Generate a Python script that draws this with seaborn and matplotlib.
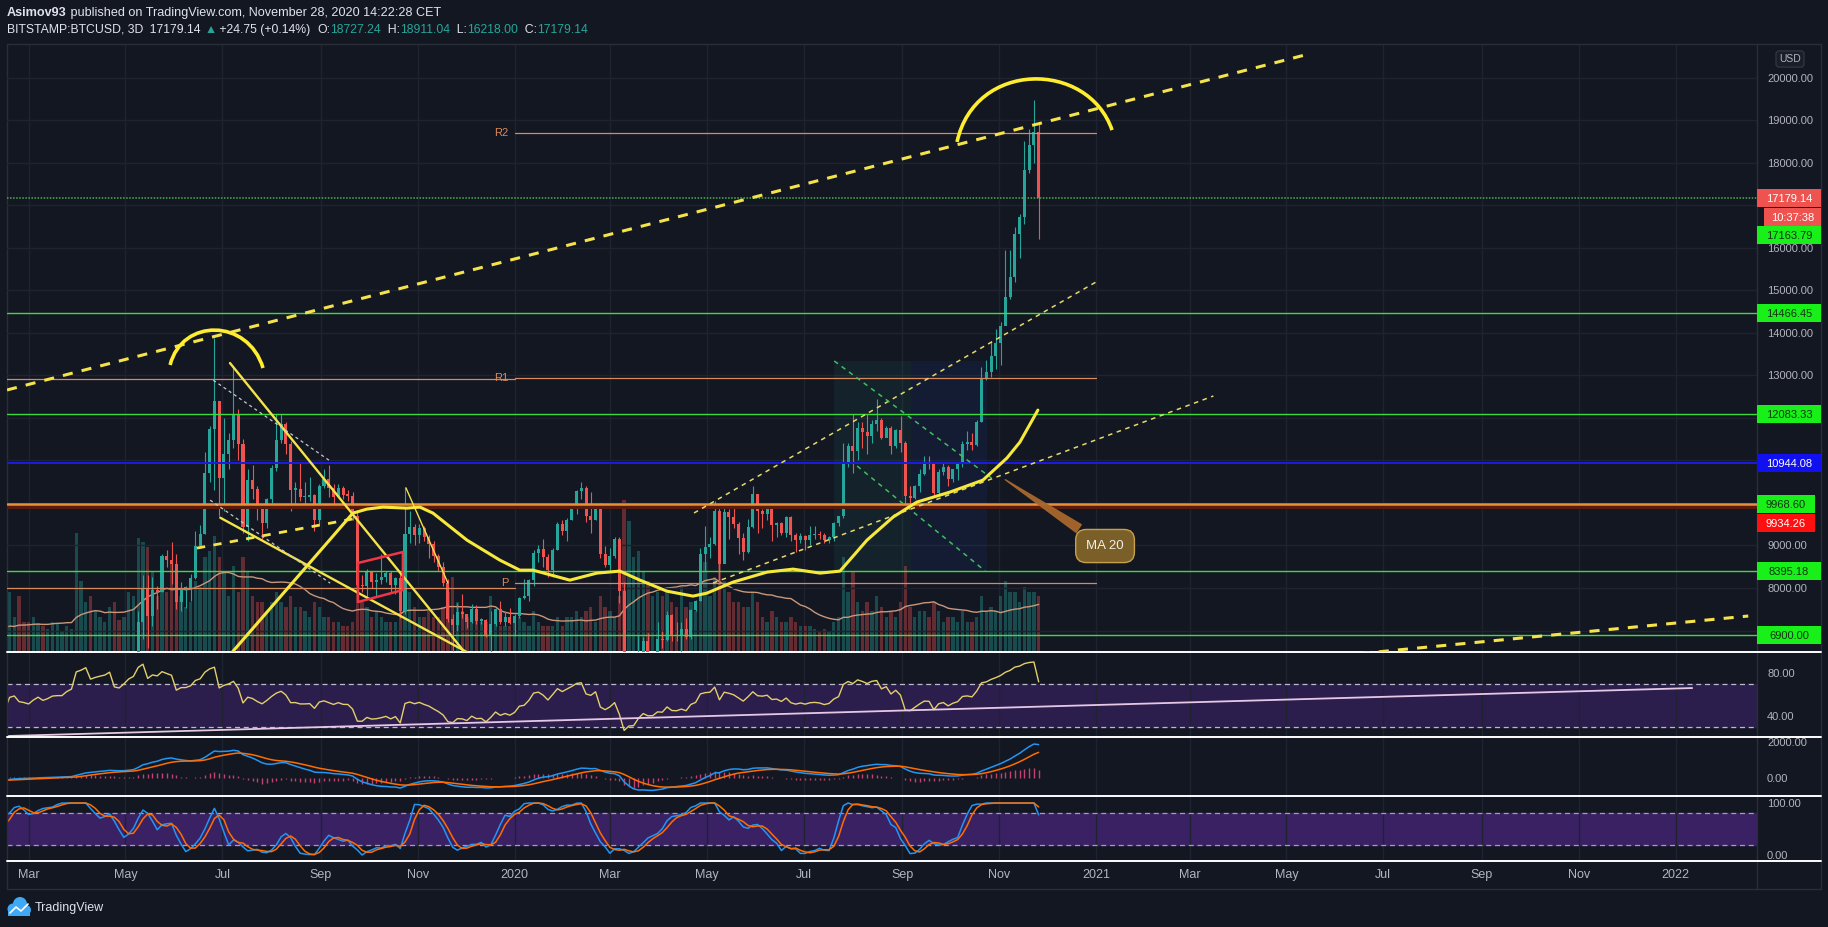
import numpy as np
import pandas as pd
import matplotlib
matplotlib.use("Agg")
import matplotlib.pyplot as plt
import matplotlib.dates as mdates
import matplotlib.transforms as mtransforms
from matplotlib.patches import Rectangle, PathPatch, Circle
from matplotlib.path import Path
from matplotlib.lines import Line2D
from matplotlib.ticker import FuncFormatter, FormatStrFormatter
import seaborn as sns

# BITSTAMP:BTCUSD 3D candles, first candle opens 2018-12-22
first_open = 3870
closes = [
    4050, 3600, 3850, 3930,
    3800, 4000, 3620, 3660, 3640, 3540, 3560, 3580, 3400, 3450,
    3400, 3360, 3650, 3590, 3610, 3910, 3950, 3830, 3810,
    3780, 3870, 3940, 3880, 3920, 3980, 3990, 3990, 4080, 4140, 4900,
    5040, 5280, 5040, 5160, 5250, 5330, 5560, 5200, 5170, 5400,
    5750, 5970, 7200, 8000, 7350, 7950, 7900, 8750, 8650, 8560,
    7680, 8000, 8010, 8230, 8990, 9270, 10700, 11750, 12400, 10580,
    11150, 11470, 12100, 11380, 9430, 10530, 10330, 9880, 9530, 10090,
    10820, 11470, 11850, 11390, 10310, 10330, 10140, 10140, 10180, 9590, 10390,
    10560, 10350, 10150, 10360, 10180, 10170, 9700, 8060, 8050, 8390,
    8150, 8180, 8260, 8360, 8070, 8230, 7460, 9260, 9430, 9250,
    9400, 9200, 9040, 8760, 8490, 8120, 7280, 7130, 7430, 7400,
    7200, 7500, 7230, 7250, 6880, 7150, 7510, 7200, 7320, 7170,
    7340, 7760, 7820, 8180, 8820, 8910, 8730, 8430, 8900, 9510, 9330,
    9610, 9900, 10270, 10360, 9700, 9610, 9960, 8790, 8530,
    8760, 9150, 7930, 4900, 5360, 5410, 6190, 6760, 6370, 6390, 6810,
    6770, 7360, 6890, 6860, 7030, 6840, 7480, 7700, 8790, 8970,
    9030, 9810, 8570, 9790, 9670, 9510, 9180, 8840, 9430, 10200,
    9800, 9750, 9880, 9470, 9520, 9300, 9680, 9250, 9120, 9230,
    9130, 9250, 9280, 9240, 9130, 9210, 9520, 9700, 10930, 11350,
    11230, 11770, 11680, 11570, 11860, 11960, 11520, 11760, 11330, 11710, 11400,
    10170, 10120, 10390, 10680, 10940, 10920, 10240, 10730, 10840, 10570,
    10790, 10920, 11380, 11430, 11370, 11910, 12930, 13070, 13460, 13760,
    14150, 14840, 15310, 16330, 16720, 17820, 18420, 18727.24, 17179.14,
]
highs = [
    4230, 4050, 3950, 3950,
    3950, 4100, 4060, 3660, 3660, 3750, 3610, 3650, 3600, 3480,
    3500, 3440, 3700, 3660, 3640, 4000, 3990, 4200, 3880,
    3850, 3900, 3970, 3940, 3930, 4050, 4090, 4020, 4090, 4170, 5100,
    5090, 5350, 5480, 5200, 5270, 5380, 5620, 5640, 5220, 5420,
    5850, 6000, 7450, 8300, 8300, 8250, 8050, 8800, 8900, 9080,
    8800, 8150, 8050, 8320, 9350, 9470, 11200, 11800, 13880, 12400,
    12000, 11650, 13200, 12200, 11500, 10800, 10900, 10400, 9900, 10120,
    10900, 12100, 12100, 11900, 11450, 10500, 10950, 10500, 10600, 10200, 10450,
    10800, 10900, 10450, 10450, 10400, 10300, 10250, 9800, 8300, 8450,
    8400, 8350, 8800, 8400, 8400, 8250, 8350, 10370, 9800, 9500,
    9500, 9450, 9250, 9100, 8800, 8600, 8200, 7400, 7650, 7850,
    7400, 7620, 7600, 7300, 7280, 7450, 7520, 7700, 7450, 7520,
    7400, 7800, 8200, 8200, 8900, 9000, 9150, 8800, 8950, 9550, 9600,
    9650, 9950, 10300, 10500, 10400, 10250, 9980, 10000, 8980,
    8950, 9200, 9200, 8150, 6000, 5450, 6900, 6850, 6950, 6400, 7200,
    7000, 7450, 7400, 7200, 7200, 7300, 7500, 7720, 8950, 9450,
    9200, 10050, 9900, 9950, 9850, 9900, 9550, 9300, 9620, 10400,
    10200, 9850, 9950, 9950, 9550, 9550, 9700, 9700, 9300, 9300,
    9250, 9450, 9450, 9350, 9300, 9220, 9550, 9700, 11400, 11400,
    12100, 11900, 11900, 12100, 11950, 12450, 12000, 11800, 11800, 11750, 12050,
    11450, 10400, 10420, 10800, 11100, 11100, 10950, 10800, 10950, 10900,
    10800, 10950, 11450, 11700, 11650, 11950, 13200, 13350, 13800, 14100,
    14250, 15950, 15950, 16500, 16800, 18500, 18800, 19484, 18911.04,
]
lows = [
    3800, 3550, 3580, 3650,
    3730, 3780, 3550, 3470, 3520, 3480, 3500, 3540, 3380, 3390,
    3380, 3340, 3360, 3550, 3550, 3600, 3880, 3700, 3780,
    3750, 3680, 3850, 3830, 3850, 3920, 3950, 3970, 3900, 4050, 4100,
    4800, 5000, 4950, 4980, 5000, 5250, 5260, 5000, 5120, 5160,
    5400, 5650, 5950, 6800, 6600, 7100, 7500, 7900, 8500, 8100,
    7500, 7450, 7530, 7700, 8200, 8950, 9280, 10500, 10300, 9700,
    9800, 10800, 11300, 11000, 9300, 9100, 10100, 9600, 9150, 9400,
    10000, 10750, 11400, 11150, 9800, 9900, 10050, 9900, 10050, 9350, 9500,
    10350, 10150, 9900, 10150, 10100, 10050, 9600, 7800, 7900, 7750,
    8000, 7800, 8100, 8150, 7900, 7850, 7300, 7400, 9050, 9000,
    9050, 9100, 8700, 8600, 8400, 8050, 7200, 6520, 7000, 7300,
    7050, 7170, 7150, 7150, 6850, 6430, 7100, 7150, 7100, 7150,
    6870, 7300, 7750, 7700, 8050, 8600, 8500, 8250, 8250, 8900, 9250,
    9100, 9600, 9750, 10100, 9550, 9300, 9600, 8700, 8500,
    8420, 8700, 7650, 4400, 3850, 4450, 5700, 5800, 6300, 5850, 6350,
    6600, 6750, 6750, 6750, 6450, 6800, 6800, 7450, 7700, 8400,
    8700, 9000, 8100, 8600, 9150, 9400, 8800, 8650, 8830, 9400,
    9300, 9400, 9600, 9100, 9200, 9250, 9200, 9100, 8850, 9050,
    8900, 9000, 9150, 9150, 9050, 9050, 9100, 9450, 9650, 10850,
    10700, 11000, 11300, 11150, 11400, 11700, 11500, 11550, 11150, 11300, 11200,
    9850, 9900, 10100, 10250, 10650, 10800, 10150, 10200, 10650, 10400,
    10500, 10550, 10850, 11250, 11250, 11350, 11900, 12900, 12950, 13150,
    13250, 14350, 14800, 15200, 15750, 16550, 17750, 18000, 16218,
]
# volume, thousand BTC per candle
volumes = [
    27, 20, 19, 17,
    16, 17, 20, 15, 12, 13, 11, 11, 13, 11,
    10, 11, 19, 13, 30, 40, 23, 37, 20,
    20, 23, 19, 17, 15, 20, 19, 13, 17, 15, 79,
    47, 33, 37, 27, 23, 20, 30, 33, 21, 23,
    40, 37, 76, 73, 70, 53, 37, 50, 40, 60,
    50, 37, 30, 33, 47, 43, 63, 67, 77, 63,
    53, 37, 57, 40, 63, 53, 37, 33, 33, 27,
    33, 40, 33, 30, 37, 30, 30, 27, 23, 33, 30,
    23, 23, 20, 20, 17, 17, 20, 50, 33, 30,
    23, 27, 23, 20, 20, 20, 33, 67, 40, 30,
    23, 23, 27, 23, 23, 30, 40, 50, 33, 27,
    23, 20, 23, 20, 20, 37, 23, 17, 17, 17,
    20, 23, 20, 17, 27, 20, 17, 17, 17, 23, 17,
    23, 23, 27, 23, 27, 30, 20, 37, 30,
    27, 23, 37, 101, 87, 63, 67, 53, 47, 37, 40,
    37, 40, 33, 30, 43, 30, 33, 27, 63, 60,
    37, 50, 60, 47, 40, 33, 33, 30, 30, 40,
    33, 23, 20, 27, 23, 20, 20, 23, 20, 17,
    17, 17, 15, 13, 15, 13, 20, 23, 63, 40,
    53, 33, 27, 33, 27, 37, 30, 23, 27, 23, 33,
    57, 30, 23, 27, 27, 23, 33, 27, 20, 23,
    23, 20, 27, 20, 20, 23, 37, 27, 30, 27,
    37, 47, 40, 40, 33, 43, 40, 40, 37,
]
assert len(closes) == len(highs) == len(lows) == len(volumes)

# horizontal levels and their axis tags
green_levels = [14466.45, 12083.33, 8395.18, 6900.00]
blue_level = 10944.08
orange_level = 9968.60
red_level = 9934.26
dotted_level = 17163.79
last_price = 17179.14

# yearly pivots
pivot_start = ["2019-01-01", "2020-01-01"]
pivot_end = ["2020-01-01", "2021-01-01"]
pivot_p = [8000, 8120]
pivot_r1 = [12910, 12930]
pivot_r2_2020 = 18695

# hand drawn lines (days after 2020-01-01, price)
trend_days, trend_prices = [-319.6, 497.7], [12656, 20534]
support_days, support_prices = [520, 776.8], [6412, 7341]
arc19_days, arc19_prices = [-216.9, -209.4, -167.9, -158.4], [13244, 14349, 14349, 13173]
arc20_days, arc20_prices = [278.6, 289.8, 361.0, 376.2], [18488, 20416, 20416, 18768]
wedge_top_days, wedge_top_prices = [-179.2, -20], [13290, 5964]
wedge_low_days, wedge_low_prices = [-185.3, -20], [9652, 6288]
flag_line_days, flag_line_prices = [-68.4, -42], [10354, 8120]
white1_days, white1_prices = [-189.7, -116.1], [12886, 10985]
white2_days, white2_prices = [-191.7, -116.1], [10066, 8114]
support19_days, support19_prices = [-200, -99.2], [8938, 9643]
redflag_days, redflag_prices = [-98.6, -70.3, -70.3, -98.6, -98.6], [8588, 8846, 7953, 7671, 8588]
chan_up_days, chan_up_prices = [113, 366.2], [9764, 15197]
chan_low_days, chan_low_prices = [125, 440], [8118, 12515]
green_up_days, green_up_prices = [201.3, 300.2], [13338, 10587]
green_low_days, green_low_prices = [215.7, 296.3], [10869, 8400]
shade_days, shade_prices = [201.3, 249.5, 297.6], [8400, 13338]
ma_days = [-182, -101.8, -93, -83, -67.8, -59.6, -51.4, -30, -9.3, 3.3, 11.5, 34.8, 51.8,
           66.3, 78.9, 95.9, 112.3, 121.1, 137.5, 158.9, 175.3, 192.3, 204.9, 221.9,
           238.3, 253.3, 274.1, 294.9, 310, 318.2, 329.5]
ma_prices = [6310, 9761, 9855, 9902, 9878, 9902, 9761, 9126, 8656, 8420, 8420, 8185, 8350,
             8397, 8185, 7926, 7809, 7879, 8138, 8373, 8444, 8350, 8397, 9126,
             9667, 10020, 10255, 10537, 11055, 11431, 12183]
callout_tip, callout_box = (307.5, 10583), (371.8, 8987)
rsi_trend_days, rsi_trend_vals = [-319.6, 741.5], [21.4, 66.0]

BG = "#131722"
GRID = "#1f2330"
TXT = "#b2b5be"
UP, DOWN = "#26a69a", "#ef5350"
W, H = 1828, 927

sns.set_theme(style="dark", rc={"axes.facecolor": BG, "figure.facecolor": BG,
                                "savefig.facecolor": BG, "axes.edgecolor": BG,
                                "grid.color": GRID, "text.color": "#d1d4dc"})
plt.rcParams["font.family"] = ["Liberation Sans", "DejaVu Sans"]

# indicators from the candles
s = pd.Series(closes, dtype=float)
opens = np.r_[first_open, s.values[:-1]]
delta = s.diff().fillna(0)
gain = delta.clip(lower=0).ewm(alpha=1 / 14, adjust=False).mean()
loss = (-delta).clip(lower=0).ewm(alpha=1 / 14, adjust=False).mean()
rsi = 100 - 100 / (1 + gain / loss)
lo14, hi14 = rsi.rolling(14).min(), rsi.rolling(14).max()
stoch_k = ((rsi - lo14) / (hi14 - lo14) * 100).rolling(3).mean()
stoch_d = stoch_k.rolling(3).mean()
macd = s.ewm(span=12, adjust=False).mean() - s.ewm(span=26, adjust=False).mean()
signal = macd.ewm(span=9, adjust=False).mean()
hist = macd - signal
vol_ma = pd.Series(volumes, dtype=float).rolling(20, min_periods=1).mean()

dates = pd.date_range("2018-12-22", periods=len(closes), freq="3D")
xd = mdates.date2num(dates)
x2020 = mdates.date2num(pd.Timestamp("2020-01-01"))


def dx(days):
    return x2020 + np.asarray(days, dtype=float)


fig = plt.figure(figsize=(W / 100, H / 100), dpi=100)


def panel(top, bottom, **kw):
    return fig.add_axes([7 / W, 1 - bottom / H, 1750 / W, (bottom - top) / H], **kw)


ax_vol = panel(44, 652, label="vol")
ax = panel(44, 652, sharex=ax_vol, label="price")
ax_rsi = panel(652, 737, sharex=ax_vol, label="rsi")
ax_macd = panel(737, 796, sharex=ax_vol, label="macd")
ax_st = panel(796, 861, sharex=ax_vol, label="stoch")
ax_vol.set_zorder(1)
ax.set_zorder(2)
ax.patch.set_visible(False)

for a in (ax_vol, ax, ax_rsi, ax_macd, ax_st):
    for sp in a.spines.values():
        sp.set_visible(False)
    a.yaxis.tick_right()
    a.tick_params(axis="y", labelsize=8, labelcolor=TXT, length=0, pad=7.2)
    a.tick_params(axis="x", labelbottom=False, length=0)
    a.grid(False)

ax_vol.set_xlim(dx(-319.6), dx(782.3))
ax_vol.xaxis.set_major_locator(mdates.MonthLocator(bymonth=[1, 3, 5, 7, 9, 11]))
ax_vol.xaxis.set_major_formatter(FuncFormatter(
    lambda v, p: str(mdates.num2date(v).year) if mdates.num2date(v).month == 1
    else mdates.num2date(v).strftime("%b")))
ax_st.tick_params(axis="x", labelbottom=True, labelsize=9, labelcolor=TXT, pad=6)
for a in (ax_vol, ax_rsi, ax_macd, ax_st):
    a.grid(axis="x", color=GRID, lw=1)

# volume underneath
colors = np.where(np.asarray(closes) >= opens, UP, DOWN)
ax_vol.bar(xd, volumes, width=2.1, color=colors, alpha=0.36, edgecolor="none")
sns.lineplot(x=xd, y=vol_ma, ax=ax_vol, color="#c9977a", lw=1)
ax_vol.set_ylim(0, 405)
ax_vol.set_yticks([])
ax_vol.set_ylabel("")

# price pane (tick labels that sit under a price tag are left out, as on the chart)
ax.set_ylim(6495, 20792)
ax.set_yticks(np.arange(7000, 20001, 1000))
hidden_ticks = [7000, 10000, 11000, 12000, 17000]
ax.yaxis.set_major_formatter(FuncFormatter(lambda v, p: "" if v in hidden_ticks else f"{v:.2f}"))
ax.grid(axis="y", color=GRID, lw=1)
ax.set_axisbelow(True)

body_lo = np.minimum(opens, closes)
body_h = np.maximum(np.abs(np.asarray(closes) - opens), 30)
ax.vlines(xd, lows, highs, colors=colors, lw=0.8, zorder=3)
ax.bar(xd, body_h, bottom=body_lo, width=1.9, color=colors, edgecolor="none", zorder=4)

# shaded zone + drawings
ax.add_patch(Rectangle((dx(shade_days[0]), shade_prices[0]), shade_days[1] - shade_days[0],
                       shade_prices[1] - shade_prices[0], fc="#26a69a", alpha=0.08, ec="none", zorder=1))
ax.add_patch(Rectangle((dx(shade_days[1]), shade_prices[0]), shade_days[2] - shade_days[1],
                       shade_prices[1] - shade_prices[0], fc="#2962ff", alpha=0.08, ec="none", zorder=1))

for lv in green_levels:
    ax.axhline(lv, color="#3ddc3d", lw=1, zorder=5)
ax.axhline(dotted_level, color="#4caf50", lw=1.1, ls=(0, (1, 1)), zorder=5)
ax.axhline(blue_level, color="#1c1ce6", lw=1.4, zorder=5)
ax.axhline(red_level, color="#5a1a0c", lw=3.6, zorder=5)
ax.axhline(orange_level, color="#e8903a", lw=1.8, zorder=5)

piv_col = "#d98a5c"
for i in range(2):
    xs = mdates.date2num(pd.to_datetime([pivot_start[i], pivot_end[i]]))
    ax.plot(xs, [pivot_p[i]] * 2, color=piv_col, lw=0.9, zorder=5)
    ax.plot(xs, [pivot_r1[i]] * 2, color=piv_col, lw=0.9, zorder=5)
xs20 = mdates.date2num(pd.to_datetime([pivot_start[1], pivot_end[1]]))
ax.plot(xs20, [pivot_r2_2020] * 2, color=piv_col, lw=0.9, zorder=5)
for lab, val in (("R2", pivot_r2_2020), ("R1", pivot_r1[1]), ("P", pivot_p[1])):
    ax.text(dx(-4), val, lab, color=piv_col, fontsize=8, ha="right", va="center", zorder=6)

YEL = "#f4e34a"
ax.plot(dx(trend_days), trend_prices, color=YEL, lw=2.2, ls=(0, (3.3, 3)), zorder=6)
ax.plot(dx(support_days), support_prices, color=YEL, lw=2.2, ls=(0, (3.3, 3)), zorder=6)
ax.plot(dx(support19_days), support19_prices, color=YEL, lw=2, ls=(0, (3, 3)), zorder=6)
ax.plot(dx(wedge_top_days), wedge_top_prices, color=YEL, lw=1.7, zorder=6)
ax.plot(dx(wedge_low_days), wedge_low_prices, color=YEL, lw=1.7, zorder=6)
ax.plot(dx(flag_line_days), flag_line_prices, color=YEL, lw=1, zorder=6)
ax.plot(dx(white1_days), white1_prices, color="#c8c8c8", lw=0.9, ls=(0, (2.5, 2.5)), zorder=6)
ax.plot(dx(white2_days), white2_prices, color="#c8c8c8", lw=0.9, ls=(0, (2.5, 2.5)), zorder=6)
ax.plot(dx(redflag_days), redflag_prices, color="#f23645", lw=1.8, zorder=6)
ax.plot(dx(chan_up_days), chan_up_prices, color="#e6d96a", lw=1.1, ls=(0, (3, 3)), zorder=6)
ax.plot(dx(chan_low_days), chan_low_prices, color="#e6d96a", lw=1.1, ls=(0, (3, 3)), zorder=6)
ax.plot(dx(green_up_days), green_up_prices, color="#3fbf5f", lw=1.1, ls=(0, (3, 3)), zorder=6)
ax.plot(dx(green_low_days), green_low_prices, color="#3fbf5f", lw=1.1, ls=(0, (3, 3)), zorder=6)
ax.plot(dx(ma_days), ma_prices, color="#f7e93b", lw=2.2, zorder=6, solid_capstyle="round")

codes = [Path.MOVETO, Path.CURVE4, Path.CURVE4, Path.CURVE4]
for days, prices in ((arc19_days, arc19_prices), (arc20_days, arc20_prices)):
    verts = list(zip(dx(days), prices))
    ax.add_patch(PathPatch(Path(verts, codes), fc="none", ec="#ffee30", lw=2.6, zorder=7))

ax.annotate("MA 20", xy=(dx(callout_tip[0]), callout_tip[1]),
            xytext=(dx(callout_box[0]), callout_box[1]), color="#f2efe6", fontsize=9.5,
            ha="center", va="center", zorder=8,
            bbox=dict(boxstyle="round,pad=0.8", fc="#7a5f28", ec="#c9a04a", lw=1),
            arrowprops=dict(arrowstyle="wedge,tail_width=0.7", fc="#a8672c", ec="#a8672c", alpha=0.95))

# price tags on the axis
ylo, yhi = ax.get_ylim()
box_h = 18 * (yhi - ylo) / 608


def price_tag(price, text, face, tc, dy=0, x_px=0, w_px=64):
    tr = mtransforms.offset_copy(ax.get_yaxis_transform(), fig=fig, x=0, y=-dy, units="dots")
    ax.add_patch(Rectangle((1.0 + x_px / 1750, price - box_h / 2), w_px / 1750, box_h, transform=tr,
                           fc=face, ec="none", clip_on=False, zorder=30))
    ax.text(1.0 + (x_px + w_px / 2) / 1750, price, text, transform=tr, ha="center",
            va="center_baseline", color=tc, fontsize=8, clip_on=False, zorder=31)


GREEN_TAG, GREEN_TXT = "#19f019", "#113311"
price_tag(last_price, f"{last_price:.2f}", "#ef5350", "white")
price_tag(last_price, "10:37:38", "#ef5350", "white", dy=19, x_px=7, w_px=57)
price_tag(dotted_level, f"{dotted_level:.2f}", GREEN_TAG, GREEN_TXT, dy=37)
for lv in green_levels:
    price_tag(lv, f"{lv:.2f}", GREEN_TAG, GREEN_TXT)
price_tag(blue_level, f"{blue_level:.2f}", "#1010f0", "white")
price_tag(orange_level, f"{orange_level:.2f}", GREEN_TAG, GREEN_TXT, w_px=58)
price_tag(red_level, f"{red_level:.2f}", "#ff1010", "white", dy=17, w_px=58)

# RSI pane
ax_rsi.set_ylim(20.5, 99.5)
ax_rsi.axhspan(30, 70, color="#2b1d4c", zorder=0)
for lv in (70, 30):
    ax_rsi.axhline(lv, color="#b8bcc8", lw=0.9, ls=(0, (4, 3)), zorder=1)
ax_rsi.set_yticks([40, 80])
ax_rsi.yaxis.set_major_formatter(FormatStrFormatter("%.2f"))
sns.lineplot(x=xd, y=rsi, ax=ax_rsi, color="#e3cf6b", lw=1, zorder=3)
ax_rsi.plot(dx(rsi_trend_days), rsi_trend_vals, color="#e6c8e6", lw=1.3, zorder=4)
ax_rsi.set_ylabel("")

# MACD pane
ax_macd.set_ylim(-992, 2259)
ax_macd.set_yticks([0, 2000])
ax_macd.yaxis.set_major_formatter(FormatStrFormatter("%.2f"))
ax_macd.vlines(xd, 0, hist, colors="#d9467a", lw=1, alpha=0.9, zorder=2)
sns.lineplot(x=xd, y=macd, ax=ax_macd, color="#2196f3", lw=1.1, zorder=3)
sns.lineplot(x=xd, y=signal, ax=ax_macd, color="#ff6d00", lw=1.1, zorder=3)
ax_macd.set_ylabel("")

# Stoch RSI pane
ax_st.set_ylim(-11.5, 113.5)
ax_st.axhspan(20, 80, color="#3a2163", zorder=0)
for lv in (80, 20):
    ax_st.axhline(lv, color="#a59cbc", lw=0.9, ls=(0, (4, 3)), zorder=1)
ax_st.set_yticks([0, 100])
ax_st.yaxis.set_major_formatter(FormatStrFormatter("%.2f"))
sns.lineplot(x=xd, y=stoch_k, ax=ax_st, color="#2196f3", lw=1.1, zorder=3)
sns.lineplot(x=xd, y=stoch_d, ax=ax_st, color="#ff6d00", lw=1.1, zorder=3)
ax_st.set_ylabel("")


# frame lines
def fig_line(x0, y0, x1, y1, **kw):
    fig.add_artist(Line2D([x0 / W, x1 / W], [1 - y0 / H, 1 - y1 / H], transform=fig.transFigure, **kw))


for y in (44, 889):
    fig_line(7, y, 1821, y, color="#2a2e39", lw=1)
for x in (7, 1757, 1821):
    fig_line(x, 44, x, 889, color="#2a2e39", lw=1)
for y in (652, 737, 796, 861):
    fig_line(7, y, 1821, y, color="white", lw=1.4)

fig.text(1790 / W, 1 - 59 / H, "USD", color=TXT, fontsize=7.5, ha="center", va="center",
         bbox=dict(boxstyle="round,pad=0.3", fc="#1a1e29", ec="#363a45", lw=0.8))


# header
def chain_text(parts, x_px, y_px, size):
    prev = None
    for txt, col, wt in parts:
        if prev is None:
            prev = fig.text(x_px / W, 1 - y_px / H, txt, color=col, fontsize=size,
                            fontweight=wt, ha="left", va="center")
        else:
            prev = ax.annotate(txt, xy=(1, 0.5), xycoords=prev, color=col, fontsize=size,
                               fontweight=wt, ha="left", va="center", annotation_clip=False)


HW = "#e0e3eb"
chain_text([("Asimov93", HW, "bold"),
            (" published on TradingView.com, November 28, 2020 14:22:28 CET", HW, "normal")], 7, 13, 9.1)
chain_text([("BITSTAMP:BTCUSD, 3D", HW, "normal"), ("  17179.14 ", HW, "normal"),
            ("\u25b2", UP, "normal"), (" +24.75 (+0.14%)  ", HW, "normal"),
            ("O:", HW, "normal"), ("18727.24", UP, "normal"),
            ("  H:", HW, "normal"), ("18911.04", UP, "normal"),
            ("  L:", HW, "normal"), ("16218.00", UP, "normal"),
            ("  C:", HW, "normal"), ("17179.14", UP, "normal")], 7, 30, 8.8)

# TradingView logo
ident = mtransforms.IdentityTransform()
for cx, cy, r in ((13, 909, 5.5), (20, 904, 7), (26, 910, 5)):
    fig.add_artist(Circle((cx, H - cy), r, transform=ident, fc="#3fa9f5", ec="none"))
fig.add_artist(Rectangle((8, H - 915.5), 22, 6, transform=ident, fc="#3fa9f5", ec="none"))
fig.add_artist(Line2D([10, 16, 21, 28], [H - 913, H - 907, H - 911, H - 904], transform=ident,
                      color="white", lw=1.2))
fig.text(35 / W, 1 - 908 / H, "TradingView", color="#e0e3eb", fontsize=9, ha="left", va="center")

fig.savefig("out.png", dpi=100, facecolor=BG)
